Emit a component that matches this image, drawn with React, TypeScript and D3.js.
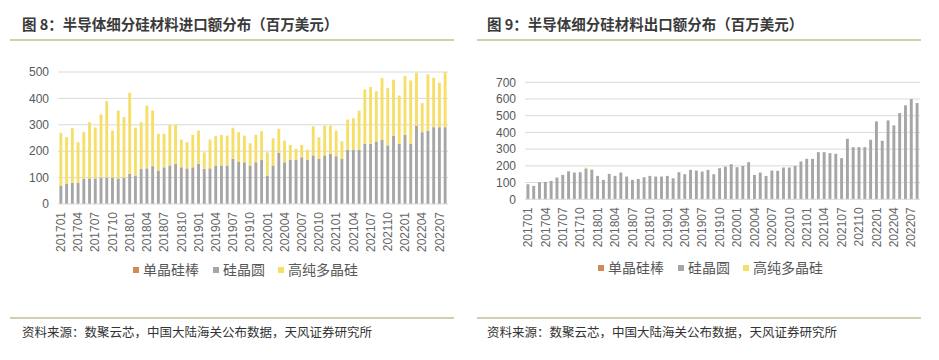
import React from "react";
import * as d3 from "d3";

const months = [
  "201701","201702","201703","201704","201705","201706","201707","201708","201709","201710","201711","201712",
  "201801","201802","201803","201804","201805","201806","201807","201808","201809","201810","201811","201812",
  "201901","201902","201903","201904","201905","201906","201907","201908","201909","201910","201911","201912",
  "202001","202002","202003","202004","202005","202006","202007","202008","202009","202010","202011","202012",
  "202101","202102","202103","202104","202105","202106","202107","202108","202109","202110","202111","202112",
  "202201","202202","202203","202204","202205","202206","202207","202208",
];

const seriesNames = ["单晶硅棒", "硅晶圆", "高纯多晶硅"];
const seriesColors = ["#cf8a55", "#a6a6a6", "#f6df68"];

// Import (图8)
const importIngot = months.map(() => 0);
const importWafer = [
  70,76,80,80,95,97,97,100,100,100,97,100,
  114,108,133,135,143,127,139,146,152,139,135,139,
  152,133,135,146,146,146,171,161,158,146,158,168,
  108,146,194,158,168,168,177,168,184,171,184,190,
  181,171,206,206,206,228,228,237,244,222,259,228,
  262,228,297,272,278,291,291,291,
];
const importTotal = [
  270,253,287,234,272,310,290,339,390,278,354,329,
  421,289,310,373,354,266,266,300,300,244,234,262,
  278,196,244,257,262,259,289,272,259,230,262,276,
  196,249,285,240,224,209,224,206,294,253,297,297,
  278,238,320,325,354,434,443,427,477,439,471,411,
  485,468,497,382,491,478,459,500,
];
const importPoly = importTotal.map((t, i) => t - importWafer[i]);

// Export (图9)
const exportIngot = months.map(() => 0);
const exportWafer = [
  90,80,102,104,110,130,146,168,160,162,184,177,
  140,116,152,140,160,136,116,122,132,140,136,136,
  140,126,162,150,176,172,166,176,150,186,196,210,
  192,200,222,146,160,140,172,170,190,190,200,226,
  242,242,282,282,276,272,246,362,312,312,312,356,
  466,350,472,442,516,562,600,576,
];
const exportPoly = [
  0,0,0,0,0,0,0,2,0,0,6,3,
  0,0,0,0,0,0,0,0,0,0,0,0,
  0,0,0,0,0,0,0,0,0,0,0,0,
  0,0,0,0,0,0,0,0,0,0,0,0,
  0,0,0,0,0,0,0,0,0,0,0,0,
  0,0,0,0,0,0,0,0,
];

const importTicks = [0, 100, 200, 300, 400, 500];
const exportTicks = [0, 100, 200, 300, 400, 500, 600, 700];

const NUM_FONT = "'Liberation Sans', Arial, 'Noto Sans CJK SC', sans-serif";
const CJK_FONT = "'Noto Sans CJK SC', 'Liberation Sans', sans-serif";

type PanelProps = {
  title: string;
  ox: number;
  lineX0: number;
  lineX1: number;
  plotX0: number;
  plotX1: number;
  yTop: number;
  yBottom: number;
  yMax: number;
  ticks: number[];
  ingot: number[];
  wafer: number[];
  poly: number[];
  legendX: number;
  legendY: number;
};

function Panel(p: PanelProps) {
  const x = d3.scaleBand<string>().domain(months).range([p.plotX0, p.plotX1]).paddingInner(0.5).paddingOuter(0.25);
  const y = d3.scaleLinear().domain([0, p.yMax]).range([p.yBottom, p.yTop]);
  const rows = months.map((m, i) => ({ m, ingot: p.ingot[i], wafer: p.wafer[i], poly: p.poly[i] }));
  const stack = d3.stack<any>().keys(["ingot", "wafer", "poly"])(rows);
  const labelMonths = months.filter((_, i) => i % 3 === 0);
  const legendOffsets = [0, 80, 145];
  return (
    <g>
      <text x={p.ox} y={30} fontFamily={CJK_FONT} fontSize={14.5} fontWeight="bold" fill="#3a3a3a">
        {p.title}
      </text>
      <line x1={p.lineX0} x2={p.lineX1} y1={40} y2={40} stroke="#d2cfae" strokeWidth={2} />
      {p.ticks.map((t) => (
        <g key={t}>
          {t > 0 && (
            <line x1={p.plotX0} x2={p.plotX1} y1={y(t)} y2={y(t)} stroke="#d9d9d9" strokeWidth={1} />
          )}
          <text x={p.plotX0 - 9} y={y(t)} dy="0.35em" textAnchor="end" fontFamily={NUM_FONT} fontSize={12} fill="#595959">
            {t}
          </text>
        </g>
      ))}
      {stack.map((s, si) => (
        <g key={si} fill={seriesColors[si]}>
          {s.map((d, i) => {
            const h = y(d[0]) - y(d[1]);
            if (h <= 0) return null;
            return <rect key={i} x={x(months[i])!} width={x.bandwidth()} y={y(d[1])} height={h} />;
          })}
        </g>
      ))}
      <line x1={p.plotX0} x2={p.plotX1} y1={y(0)} y2={y(0)} stroke="#d9d9d9" strokeWidth={1} />
      {labelMonths.map((m) => (
        <text
          key={m}
          transform={`translate(${x(m)! + x.bandwidth() / 2},${y(0) + 8}) rotate(-90)`}
          textAnchor="end"
          dy="0.35em"
          fontFamily={NUM_FONT}
          fontSize={12}
          fill="#666"
        >
          {m}
        </text>
      ))}
      {seriesNames.map((n, i) => (
        <g key={n} transform={`translate(${p.legendX + legendOffsets[i]},${p.legendY})`}>
          <rect x={0} y={-3} width={6} height={6} fill={seriesColors[i]} />
          <text x={10} y={0} dy="0.35em" fontFamily={CJK_FONT} fontSize={14} fill="#595959">
            {n}
          </text>
        </g>
      ))}
      <line x1={p.lineX0} x2={p.lineX1} y1={318} y2={318} stroke="#d2cfae" strokeWidth={2} />
      <text x={p.ox} y={337} fontFamily={CJK_FONT} fontSize={12.5} fill="#333">
        资料来源：数聚云芯，中国大陆海关公布数据，天风证券研究所
      </text>
    </g>
  );
}

export default function App() {
  return (
    <svg width={939} height={360} style={{ position: "absolute", left: 0, top: 0, background: "#fff" }}>
      <rect width={939} height={360} fill="#fff" />
      <Panel
        title="图 8：半导体细分硅材料进口额分布（百万美元）"
        ox={22}
        lineX0={10}
        lineX1={454}
        plotX0={58}
        plotX1={448}
        yTop={72}
        yBottom={204}
        yMax={500}
        ticks={importTicks}
        ingot={importIngot}
        wafer={importWafer}
        poly={importPoly}
        legendX={133}
        legendY={270}
      />
      <Panel
        title="图 9：半导体细分硅材料出口额分布（百万美元）"
        ox={487}
        lineX0={477}
        lineX1={921}
        plotX0={525}
        plotX1={920}
        yTop={82.3}
        yBottom={199.3}
        yMax={700}
        ticks={exportTicks}
        ingot={exportIngot}
        wafer={exportWafer}
        poly={exportPoly}
        legendX={598}
        legendY={268}
      />
    </svg>
  );
}
